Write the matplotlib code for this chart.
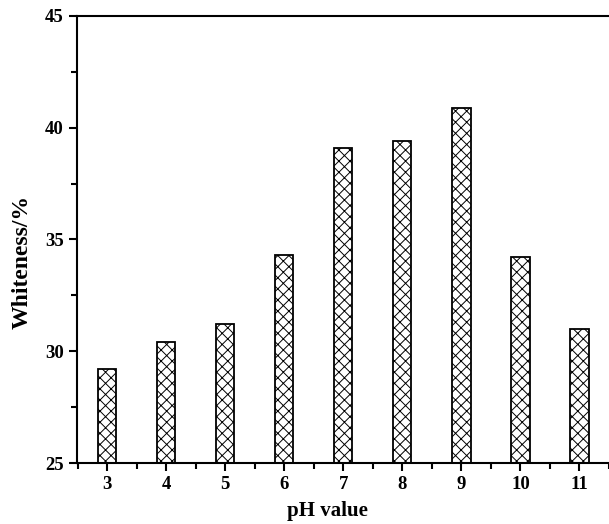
import matplotlib
matplotlib.use("Agg")
import matplotlib.pyplot as plt
from matplotlib.ticker import MultipleLocator

ph = [3, 4, 5, 6, 7, 8, 9, 10, 11]
whiteness = [29.2, 30.4, 31.2, 34.3, 39.1, 39.4, 40.9, 34.2, 31.0]
yticks = [25, 30, 35, 40, 45]

plt.rcParams['font.family'] = ['Liberation Serif', 'DejaVu Serif']
plt.rcParams['font.weight'] = 'bold'
plt.rcParams['hatch.linewidth'] = 0.7

fig = plt.figure(figsize=(6.09, 5.24), dpi=100)
ax = fig.add_axes([0.1264, 0.1164, 0.8736, 0.8531])

ax.bar(ph, [w - 25 for w in whiteness], bottom=25, width=0.31, color='white',
       edgecolor='black', linewidth=1.3, hatch='xxx')

ax.set_xlim(2.49, 11.5)
ax.set_ylim(25, 45)
ax.set_xticks(ph)
ax.set_xticklabels([str(p) for p in ph])
ax.set_yticks(yticks)
ax.xaxis.set_minor_locator(MultipleLocator(0.5))
ax.yaxis.set_minor_locator(MultipleLocator(2.5))
ax.spines['right'].set_visible(False)
for s in ['left', 'bottom', 'top']:
    ax.spines[s].set_linewidth(1.5)
ax.tick_params(which='major', direction='out', length=6, width=1.5, labelsize=13.5, top=False, right=False)
ax.tick_params(which='minor', direction='out', length=4, width=1.5, top=False, right=False)
ax.set_xlabel('pH value', fontsize=15, fontweight='bold')
ax.set_ylabel('Whiteness/%', fontsize=17, fontweight='bold')
ax.xaxis.set_label_coords(0.47, -0.085)
ax.yaxis.set_label_coords(-0.083, 0.45)

fig.savefig('out.png', dpi=100)
